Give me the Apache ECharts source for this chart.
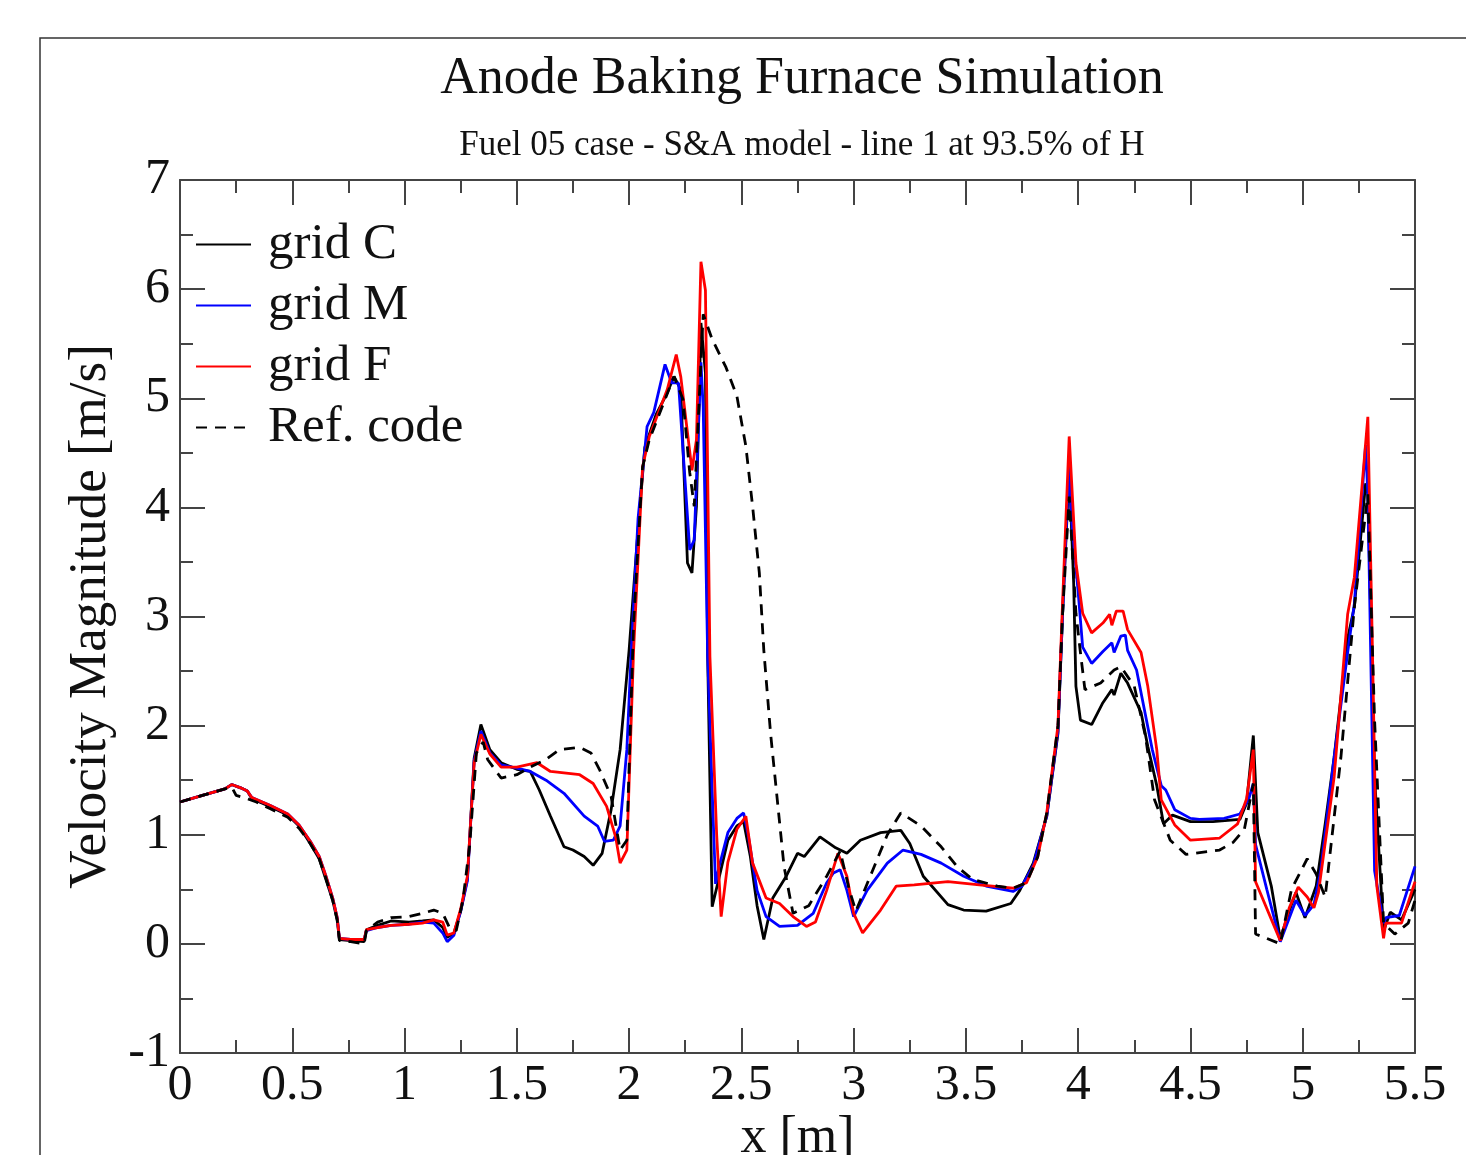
<!DOCTYPE html>
<html>
<head>
<meta charset="utf-8">
<script src="https://cdn.jsdelivr.net/npm/echarts@6/dist/echarts.min.js"></script>
<style>
  html, body { margin: 0; padding: 0; background: #fff; }
  #main { width: 1466px; height: 1155px; }
</style>
</head>
<body>
<div id="main"></div>
<script>
var chartDom = document.getElementById('main');
var myChart = echarts.init(chartDom);
var option;

// grid C
var xC = [0, 0.1, 0.2, 0.23, 0.27, 0.30, 0.32, 0.40, 0.48, 0.53, 0.58, 0.62, 0.65, 0.68, 0.70, 0.71, 0.76, 0.82, 0.83, 0.88, 0.94, 1.02, 1.08, 1.13, 1.17, 1.19, 1.22, 1.25, 1.28, 1.31, 1.34, 1.38, 1.43, 1.50, 1.56, 1.60, 1.65, 1.71, 1.75, 1.80, 1.84, 1.88, 1.92, 1.96, 2.00, 2.04, 2.07, 2.12, 2.17, 2.20, 2.23, 2.26, 2.28, 2.30, 2.32, 2.34, 2.35, 2.37, 2.40, 2.44, 2.48, 2.51, 2.54, 2.57, 2.60, 2.64, 2.70, 2.75, 2.78, 2.85, 2.92, 2.97, 3.03, 3.12, 3.21, 3.25, 3.31, 3.42, 3.49, 3.59, 3.70, 3.74, 3.80, 3.86, 3.91, 3.93, 3.96, 3.98, 3.99, 4.01, 4.06, 4.11, 4.15, 4.16, 4.19, 4.22, 4.28, 4.31, 4.35, 4.38, 4.42, 4.50, 4.60, 4.72, 4.75, 4.78, 4.80, 4.86, 4.90, 4.95, 4.97, 5.01, 5.06, 5.10, 5.14, 5.20, 5.23, 5.28, 5.29, 5.32, 5.36, 5.39, 5.44, 5.50];
var vC = [1.30, 1.36, 1.42, 1.46, 1.43, 1.40, 1.33, 1.26, 1.18, 1.08, 0.92, 0.78, 0.59, 0.40, 0.22, 0.04, 0.03, 0.02, 0.13, 0.17, 0.21, 0.20, 0.21, 0.22, 0.15, 0.06, 0.10, 0.30, 0.60, 1.70, 2.01, 1.78, 1.66, 1.60, 1.58, 1.41, 1.17, 0.89, 0.86, 0.80, 0.72, 0.83, 1.23, 1.78, 2.69, 3.80, 4.55, 4.85, 5.05, 5.20, 5.08, 3.49, 3.40, 4.01, 5.69, 5.23, 2.63, 0.34, 0.60, 0.95, 1.08, 1.12, 0.80, 0.35, 0.04, 0.42, 0.62, 0.83, 0.80, 0.98, 0.88, 0.83, 0.95, 1.02, 1.04, 0.92, 0.62, 0.36, 0.31, 0.30, 0.37, 0.49, 0.74, 1.17, 1.93, 3.00, 4.35, 3.30, 2.36, 2.05, 2.01, 2.21, 2.33, 2.28, 2.48, 2.39, 2.12, 1.81, 1.45, 1.10, 1.18, 1.12, 1.12, 1.14, 1.29, 1.91, 1.02, 0.53, 0.05, 0.36, 0.47, 0.24, 0.53, 1.10, 1.71, 2.80, 3.09, 4.22, 4.12, 1.53, 0.12, 0.29, 0.22, 0.50];

// grid M
var xM = [0, 0.1, 0.2, 0.23, 0.27, 0.30, 0.32, 0.40, 0.48, 0.53, 0.58, 0.62, 0.65, 0.68, 0.70, 0.71, 0.76, 0.82, 0.83, 0.88, 0.94, 1.02, 1.08, 1.13, 1.17, 1.19, 1.22, 1.25, 1.28, 1.31, 1.34, 1.38, 1.43, 1.50, 1.56, 1.63, 1.71, 1.80, 1.86, 1.89, 1.93, 1.96, 1.99, 2.01, 2.04, 2.08, 2.11, 2.16, 2.19, 2.22, 2.27, 2.29, 2.32, 2.33, 2.35, 2.37, 2.385, 2.40, 2.44, 2.48, 2.51, 2.53, 2.57, 2.61, 2.67, 2.75, 2.82, 2.88, 2.91, 2.94, 2.97, 3.00, 3.06, 3.15, 3.22, 3.30, 3.39, 3.49, 3.59, 3.71, 3.75, 3.80, 3.86, 3.91, 3.93, 3.96, 3.97, 4.00, 4.02, 4.06, 4.11, 4.15, 4.16, 4.19, 4.21, 4.22, 4.26, 4.33, 4.37, 4.39, 4.43, 4.50, 4.54, 4.65, 4.72, 4.76, 4.78, 4.79, 4.84, 4.90, 4.97, 5.01, 5.05, 5.08, 5.14, 5.20, 5.23, 5.28, 5.29, 5.32, 5.36, 5.37, 5.43, 5.50];
var vM = [1.30, 1.36, 1.42, 1.46, 1.43, 1.40, 1.34, 1.27, 1.19, 1.09, 0.94, 0.80, 0.62, 0.42, 0.24, 0.05, 0.04, 0.04, 0.12, 0.15, 0.17, 0.18, 0.20, 0.19, 0.10, 0.02, 0.08, 0.30, 0.58, 1.68, 1.95, 1.75, 1.64, 1.61, 1.58, 1.50, 1.38, 1.17, 1.08, 0.94, 0.95, 1.08, 1.78, 2.69, 3.90, 4.74, 4.87, 5.31, 5.14, 5.14, 3.61, 3.70, 5.33, 4.92, 2.63, 1.40, 0.55, 0.70, 1.02, 1.15, 1.20, 1.00, 0.49, 0.25, 0.16, 0.17, 0.28, 0.56, 0.65, 0.68, 0.49, 0.25, 0.49, 0.74, 0.86, 0.82, 0.74, 0.62, 0.53, 0.48, 0.53, 0.72, 1.17, 1.95, 3.00, 4.44, 3.90, 3.22, 2.72, 2.57, 2.68, 2.76, 2.67, 2.82, 2.83, 2.69, 2.51, 1.78, 1.45, 1.41, 1.23, 1.15, 1.14, 1.15, 1.19, 1.33, 1.47, 0.91, 0.50, 0.02, 0.40, 0.26, 0.36, 0.67, 1.71, 2.67, 3.12, 4.57, 4.12, 0.67, 0.19, 0.24, 0.26, 0.71];

// grid F
var xF = [0, 0.1, 0.2, 0.23, 0.27, 0.30, 0.32, 0.40, 0.48, 0.53, 0.58, 0.62, 0.65, 0.68, 0.70, 0.71, 0.76, 0.82, 0.83, 0.88, 0.94, 1.02, 1.08, 1.13, 1.17, 1.19, 1.22, 1.25, 1.28, 1.31, 1.34, 1.38, 1.43, 1.50, 1.59, 1.65, 1.78, 1.84, 1.90, 1.94, 1.96, 1.99, 2.02, 2.06, 2.09, 2.17, 2.21, 2.23, 2.28, 2.30, 2.32, 2.34, 2.36, 2.39, 2.41, 2.44, 2.48, 2.52, 2.55, 2.61, 2.67, 2.73, 2.79, 2.83, 2.88, 2.93, 2.97, 3.00, 3.04, 3.12, 3.19, 3.27, 3.42, 3.56, 3.71, 3.77, 3.82, 3.86, 3.91, 3.93, 3.96, 3.99, 4.02, 4.06, 4.11, 4.14, 4.15, 4.17, 4.20, 4.22, 4.28, 4.31, 4.35, 4.37, 4.43, 4.50, 4.63, 4.71, 4.75, 4.78, 4.79, 4.90, 4.94, 4.98, 5.02, 5.05, 5.07, 5.14, 5.20, 5.23, 5.29, 5.31, 5.33, 5.36, 5.37, 5.44, 5.50];
var vF = [1.30, 1.36, 1.42, 1.46, 1.43, 1.40, 1.34, 1.27, 1.19, 1.09, 0.94, 0.80, 0.62, 0.42, 0.24, 0.05, 0.04, 0.04, 0.13, 0.15, 0.17, 0.18, 0.19, 0.22, 0.20, 0.08, 0.10, 0.32, 0.62, 1.66, 1.92, 1.74, 1.62, 1.62, 1.66, 1.58, 1.55, 1.47, 1.26, 0.98, 0.74, 0.86, 2.69, 4.37, 4.65, 5.08, 5.40, 5.20, 4.34, 4.62, 6.25, 5.99, 2.63, 1.00, 0.25, 0.75, 1.05, 1.17, 0.74, 0.42, 0.37, 0.25, 0.16, 0.20, 0.49, 0.83, 0.62, 0.28, 0.10, 0.31, 0.53, 0.54, 0.57, 0.54, 0.51, 0.56, 0.80, 1.20, 2.00, 3.10, 4.65, 3.49, 3.03, 2.85, 2.94, 3.02, 2.92, 3.05, 3.05, 2.88, 2.67, 2.36, 1.78, 1.32, 1.09, 0.95, 0.97, 1.10, 1.33, 1.78, 0.57, 0.03, 0.33, 0.52, 0.43, 0.33, 0.47, 1.53, 3.02, 3.36, 4.83, 2.74, 0.53, 0.05, 0.19, 0.19, 0.57];

// Ref. code
var xR = [0, 0.1, 0.2, 0.23, 0.25, 0.30, 0.34, 0.40, 0.48, 0.53, 0.58, 0.62, 0.65, 0.68, 0.70, 0.71, 0.76, 0.82, 0.83, 0.88, 0.94, 1.02, 1.08, 1.13, 1.17, 1.20, 1.23, 1.26, 1.29, 1.32, 1.35, 1.37, 1.43, 1.50, 1.56, 1.63, 1.69, 1.78, 1.83, 1.87, 1.92, 1.96, 1.99, 2.02, 2.06, 2.09, 2.20, 2.24, 2.27, 2.29, 2.33, 2.37, 2.43, 2.48, 2.52, 2.55, 2.58, 2.60, 2.63, 2.66, 2.69, 2.73, 2.80, 2.88, 2.94, 2.98, 3.01, 3.08, 3.15, 3.21, 3.30, 3.39, 3.46, 3.53, 3.64, 3.71, 3.77, 3.82, 3.86, 3.91, 3.93, 3.96, 3.99, 4.01, 4.03, 4.10, 4.16, 4.19, 4.25, 4.30, 4.34, 4.41, 4.48, 4.63, 4.69, 4.74, 4.78, 4.79, 4.84, 4.90, 4.95, 5.02, 5.06, 5.10, 5.17, 5.23, 5.29, 5.32, 5.36, 5.41, 5.47, 5.50];
var vR = [1.30, 1.36, 1.42, 1.44, 1.36, 1.33, 1.30, 1.24, 1.16, 1.06, 0.92, 0.78, 0.60, 0.40, 0.22, 0.03, 0.02, 0.00, 0.12, 0.20, 0.24, 0.25, 0.28, 0.31, 0.28, 0.15, 0.12, 0.40, 0.90, 1.75, 1.85, 1.69, 1.52, 1.55, 1.62, 1.69, 1.78, 1.80, 1.75, 1.59, 1.35, 0.86, 0.95, 2.94, 4.37, 4.62, 5.20, 4.99, 4.32, 4.01, 5.77, 5.54, 5.29, 5.02, 4.56, 4.01, 3.40, 2.69, 1.93, 1.32, 0.71, 0.28, 0.35, 0.62, 0.85, 0.50, 0.30, 0.65, 1.00, 1.20, 1.08, 0.89, 0.71, 0.59, 0.53, 0.51, 0.56, 0.80, 1.20, 2.00, 3.00, 4.10, 3.03, 2.67, 2.33, 2.39, 2.51, 2.54, 2.36, 1.90, 1.32, 0.95, 0.82, 0.86, 0.93, 1.05, 1.47, 0.09, 0.05, 0.00, 0.50, 0.78, 0.64, 0.43, 1.71, 3.09, 4.12, 2.05, 0.19, 0.09, 0.19, 0.40];

function pairs(xs, vs) {
    return xs.map(function (x, i) { return [x, vs[i]]; });
}

var serif = 'Liberation Serif';
var axisColor = '#444';

var baseAxis = {
    axisLine: { show: true, onZero: false, lineStyle: { color: axisColor, width: 2 } },
    axisTick: { show: true, inside: true, length: 25, lineStyle: { color: axisColor, width: 2 } },
    minorTick: { show: true, splitNumber: 2, length: 13, lineStyle: { color: axisColor, width: 2 } },
    axisLabel: { show: false },
    splitLine: { show: false }
};

option = {
    backgroundColor: '#fff',
    animation: false,
    title: [
        {
            text: 'Anode Baking Furnace Simulation',
            left: 797, top: 48, textAlign: 'center',
            textStyle: { fontFamily: serif, fontSize: 52, fontWeight: 'normal', color: '#111' }
        },
        {
            text: 'Fuel 05 case - S&A model - line 1 at 93.5% of H',
            left: 797, top: 123, textAlign: 'center',
            textStyle: { fontFamily: serif, fontSize: 35, fontWeight: 'normal', color: '#111' }
        }
    ],
    legend: {
        orient: 'vertical',
        left: 190, top: 214,
        itemWidth: 55, itemHeight: 4, itemGap: 10,
        itemStyle: { opacity: 0 },
        textStyle: { fontFamily: serif, fontSize: 51, color: '#111', padding: [0, 0, 0, 12] },
        data: ['grid C', 'grid M', 'grid F', 'Ref. code']
    },
    graphic: {
        elements: [{
            type: 'rect',
            shape: { x: 40, y: 38, width: 1500, height: 1200 },
            style: { fill: 'none', stroke: '#333', lineWidth: 1.5 },
            silent: true
        }]
    },
    grid: { left: 180, top: 180, right: 51, bottom: 102, containLabel: false, outerBoundsMode: 'none' },
    xAxis: [
        Object.assign({}, baseAxis, {
            type: 'value', min: 0, max: 5.5, interval: 0.5, position: 'bottom',
            name: 'x [m]', nameLocation: 'middle', nameGap: 59, nameMoveOverlap: false,
            nameTextStyle: { fontFamily: serif, fontSize: 52, color: '#111' },
            axisLabel: { show: true, margin: 8, fontFamily: serif, fontSize: 50, color: '#111' }
        }),
        Object.assign({}, baseAxis, {
            type: 'value', min: 0, max: 5.5, interval: 0.5, position: 'top'
        })
    ],
    yAxis: [
        Object.assign({}, baseAxis, {
            type: 'value', min: -1, max: 7, interval: 1, position: 'left',
            name: 'Velocity Magnitude [m/s]', nameLocation: 'middle', nameGap: 61, nameRotate: 90,
            nameTextStyle: { fontFamily: serif, fontSize: 53, color: '#111' },
            axisLabel: { show: true, margin: 10, fontFamily: serif, fontSize: 50, color: '#111' }
        }),
        Object.assign({}, baseAxis, {
            type: 'value', min: -1, max: 7, interval: 1, position: 'right'
        })
    ],
    series: [
        {
            name: 'grid C', type: 'line', showSymbol: false, symbol: 'none',
            lineStyle: { color: '#000', width: 2.8 }, itemStyle: { color: '#000' },
            data: pairs(xC, vC)
        },
        {
            name: 'grid M', type: 'line', showSymbol: false, symbol: 'none',
            lineStyle: { color: '#0000ff', width: 2.8 }, itemStyle: { color: '#0000ff' },
            data: pairs(xM, vM)
        },
        {
            name: 'grid F', type: 'line', showSymbol: false, symbol: 'none',
            lineStyle: { color: '#ff0000', width: 2.8 }, itemStyle: { color: '#ff0000' },
            data: pairs(xF, vF)
        },
        {
            name: 'Ref. code', type: 'line', showSymbol: false, symbol: 'none',
            lineStyle: { color: '#000', width: 2.8, type: [11, 8] }, itemStyle: { color: '#000' },
            data: pairs(xR, vR)
        }
    ]
};

option && myChart.setOption(option);
</script>
</body>
</html>
